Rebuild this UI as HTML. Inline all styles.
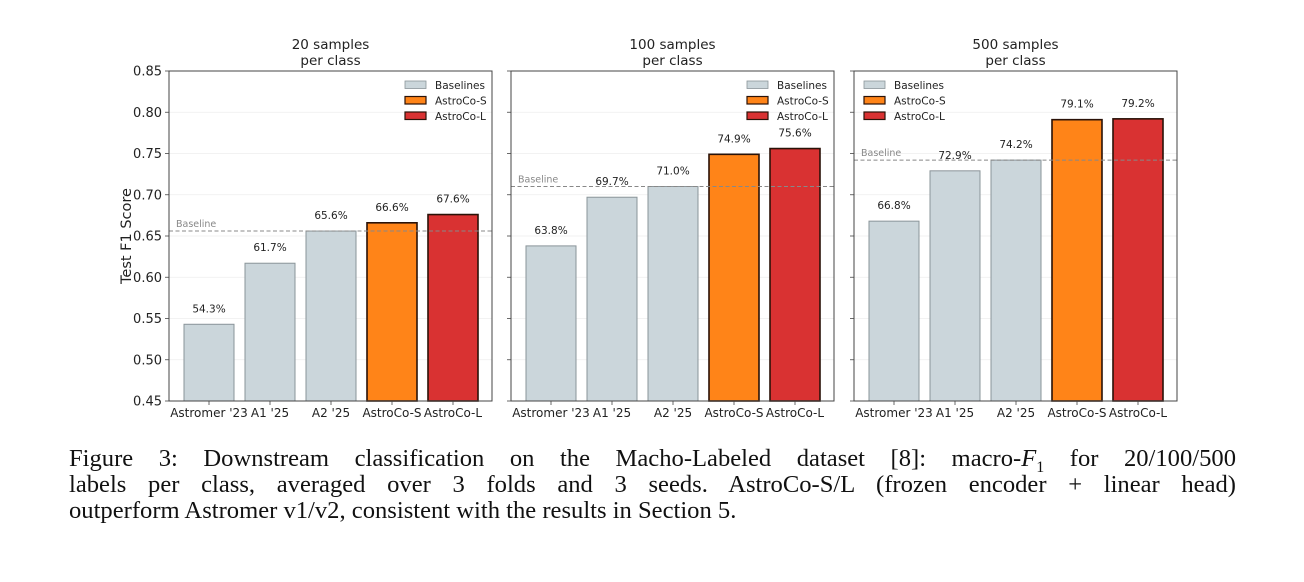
<!DOCTYPE html>
<html><head><meta charset="utf-8"><style>
body{margin:0;background:#fff;width:1304px;height:582px;overflow:hidden;position:relative}
svg{position:absolute;left:0;top:0}
svg text{font-family:"DejaVu Sans","Liberation Sans",sans-serif;fill:#222}
.cap{position:absolute;left:69px;width:1167px;font-family:"Liberation Serif",serif;font-size:24.6px;line-height:28px;color:#111;white-space:nowrap}
.j{text-align:justify;text-align-last:justify;white-space:normal}
</style></head><body>
<svg id="chart" width="1304" height="440"></svg>
<div class="cap j" style="top:445px">Figure 3: Downstream classification on the Macho-Labeled dataset [8]: macro-<i>F</i><sub style="font-size:16px;line-height:0">1</sub> for 20/100/500</div>
<div class="cap j" style="top:471px">labels per class, averaged over 3 folds and 3 seeds. AstroCo-S/L (frozen encoder + linear head)</div>
<div class="cap" style="top:497px">outperform Astromer v1/v2, consistent with the results in Section 5.</div>
<script>
const categories=["Astromer '23","A1 '25","A2 '25","AstroCo-S","AstroCo-L"];
const panelTitles=["20 samples","100 samples","500 samples"];
const vals20=[0.543,0.617,0.656,0.666,0.676];
const vals100=[0.638,0.697,0.710,0.749,0.756];
const vals500=[0.668,0.729,0.742,0.791,0.792];
const baselines=[0.656,0.710,0.742];
const yTicks=[0.45,0.50,0.55,0.60,0.65,0.70,0.75,0.80,0.85];
const legendLabels=["Baselines","AstroCo-S","AstroCo-L"];
const allVals=[vals20,vals100,vals500];
const svg=document.getElementById('chart');
const NS='http://www.w3.org/2000/svg';
function mk(t,a,p){const e=document.createElementNS(NS,t);for(const k in a)e.setAttribute(k,a[k]);(p||svg).appendChild(e);return e;}
const fills=['#cbd6db','#ff8418','#d93232'];
const strokes=['#8a9499','#2a1208','#2a1208'];
const colorIdx=[0,0,0,1,2];
const Y0=401,Y1=71,W=323,panelX=[169,511,854];
const y=v=>Y0-(v-0.45)/(0.40)*(Y0-Y1);
panelX.forEach((px,p)=>{
  const g=mk('g',{});
  
  
  const xc=i=>px+40+i*61;
  yTicks.forEach(t=>{
    const l=mk('line',{x1:px,x2:px+W,y1:y(t),y2:y(t),stroke:'#eee','stroke-width':0.8},g);
    
    mk('line',{x1:px-4,x2:px,y1:y(t),y2:y(t),stroke:'#444','stroke-width':0.8},g);
    if(p===0){const tx=mk('text',{x:px-7,y:y(t)+4.5,'text-anchor':'end','font-size':13},g);tx.textContent=t.toFixed(2);
      }
  });
  allVals[p].forEach((v,i)=>{
    const c=colorIdx[i];
    const r=mk('rect',{x:xc(i)-25,y:y(v),width:50,height:Y0-y(v),fill:fills[c],stroke:strokes[c],'stroke-width':c?1.6:1},g);
    
    
    const tx=mk('text',{x:xc(i),y:y(v)-12,'text-anchor':'middle','font-size':10.5},g);
    tx.textContent=(v*100).toFixed(1)+'%';
    
    mk('line',{x1:xc(i),x2:xc(i),y1:Y0,y2:Y0+4,stroke:'#444','stroke-width':0.8},g);
    const xl=mk('text',{x:xc(i),y:Y0+16,'text-anchor':'middle','font-size':12},g);
    xl.textContent=categories[i];
    
  });
  const bl=mk('line',{x1:px,x2:px+W,y1:y(baselines[p]),y2:y(baselines[p]),stroke:'#888','stroke-width':1,'stroke-dasharray':'4,2.5'},g);
  
  const bt=mk('text',{x:px+7,y:y(baselines[p])-4,'font-size':9.5,style:'fill:#888'},g);
  bt.textContent='Baseline';
  const fr=mk('rect',{x:px,y:Y1,width:W,height:Y0-Y1,fill:'none',stroke:'#444','stroke-width':1},g);
  
  const t1=mk('text',{x:px+W/2,y:49,'text-anchor':'middle','font-size':13.5},g);t1.textContent=panelTitles[p];
  
  const t2=mk('text',{x:px+W/2,y:65,'text-anchor':'middle','font-size':13.5},g);t2.textContent='per class';
  
  const lx=p===2?px+10:px+236;
  legendLabels.forEach((lab,k)=>{
    const ly=81+k*15.5;
    mk('rect',{x:lx,y:ly,width:21,height:7.5,fill:fills[k],stroke:strokes[k],'stroke-width':k?1.2:0.8},g);
    const lt=mk('text',{x:lx+30,y:ly+8,'font-size':10.5},g);lt.textContent=lab;
    
  });
});
const yt=mk('text',{x:131,y:236,'text-anchor':'middle','font-size':14.5,transform:'rotate(-90 131 236)'});
yt.textContent='Test F1 Score';


</script>
</body></html>
